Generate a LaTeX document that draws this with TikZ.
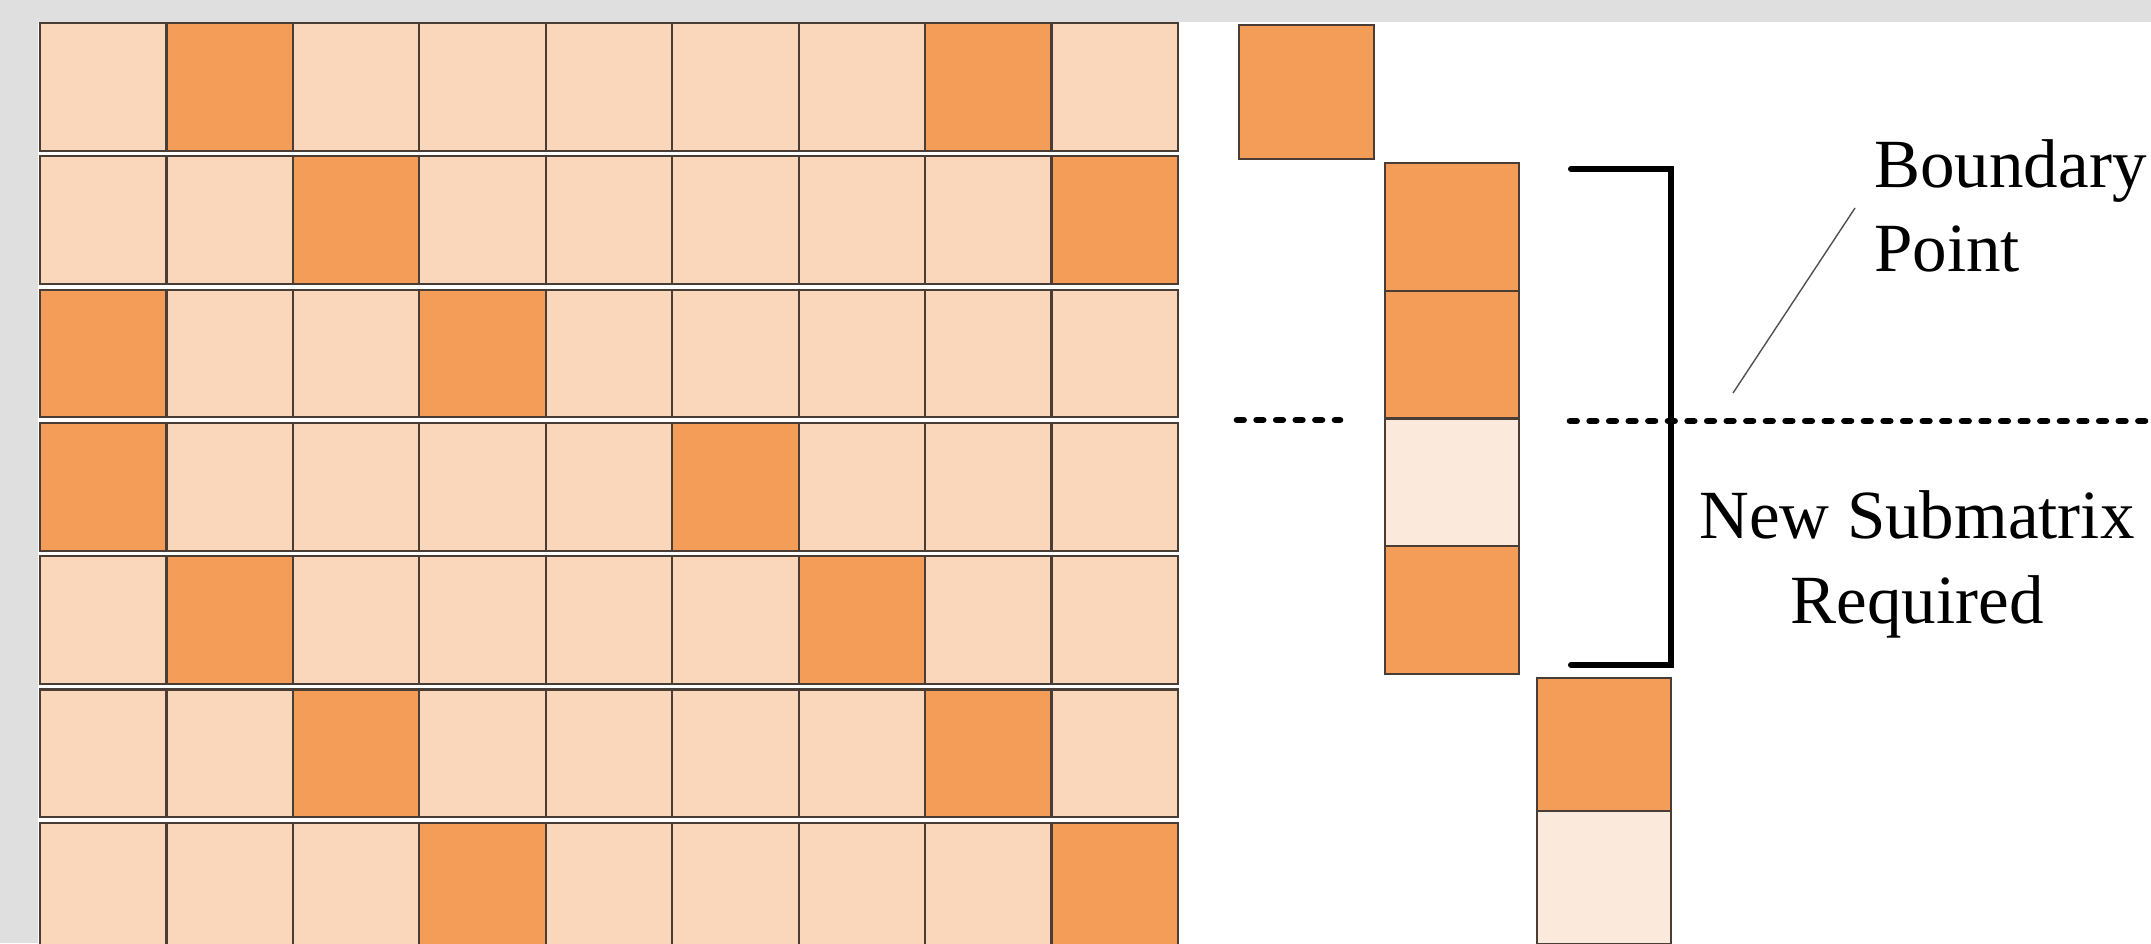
\documentclass[tikz,border=0pt]{standalone}
\usepackage{fontspec}
\setmainfont{Liberation Serif}
\definecolor{bggrey}{HTML}{DFDFDF}
\definecolor{lightcell}{HTML}{FAD7BB}
\definecolor{darkcell}{HTML}{F49D58}
\definecolor{palecell}{HTML}{FBE9DC}
\definecolor{cellline}{HTML}{4A3D35}
\definecolor{leadergrey}{HTML}{505050}
\begin{document}
\begin{tikzpicture}[x=0.5pt,y=-0.5pt,
  cell/.style={draw=cellline, line width=1.1pt, inner sep=0pt, outer sep=0pt,
    minimum width=63.22pt, minimum height=63.85pt, anchor=north west},
  colcell/.style={draw=cellline, line width=1.1pt, inner sep=0pt, outer sep=0pt,
    minimum width=67pt, anchor=north west},
  dotline/.style={line width=3.3pt, line cap=round, dash pattern=on 3.3pt off 6.5pt},
  bracketline/.style={line width=3pt, line cap=round, line join=miter},
  leader/.style={draw=leadergrey, line width=0.7pt},
  label/.style={font=\fontsize{34.5pt}{42pt}\selectfont, inner sep=0pt}]
\useasboundingbox (0,0) rectangle (2151,943);
\fill[bggrey] (0,0) rectangle (2151,943);
\fill[white] (38,22) rectangle (2151,943);

% main grid
\foreach \r/\a/\b in {1/2/8,2/3/9,3/1/4,4/1/6,5/2/7,6/3/8,7/4/9}{
  \foreach \c in {1,...,9}{
    \def\fc{lightcell}
    \ifnum\c=\a \def\fc{darkcell}\fi
    \ifnum\c=\b \def\fc{darkcell}\fi
    \node[cell, fill=\fc] (g\r-\c) at ({40+(\c-1)*126.44},{23+(\r-1)*133.3}) {};
  }
}

% single box
\node[colcell, fill=darkcell, minimum width=67.5pt, minimum height=67pt] (s1) at (1239,25) {};
% second column
\node[colcell, fill=darkcell, minimum height=63.85pt] (c1) at (1385,163) {};
\node[colcell, fill=darkcell, minimum height=63.85pt] (c2) at (1385,290.7) {};
\node[colcell, fill=palecell, minimum height=63.85pt] (c3) at (1385,418.4) {};
\node[colcell, fill=darkcell, minimum height=64pt] (c4) at (1385,546) {};
% third column
\node[colcell, fill=darkcell, minimum height=66.5pt] (d1) at (1537,678) {};
\node[colcell, fill=palecell, minimum height=66.5pt] (d2) at (1537,811) {};

% dashed boundary line
\coordinate (la) at (1237,420);
\coordinate (lb) at (1340,420);
\coordinate (ra) at (1570,421);
\coordinate (rb) at (2165,421);
\draw[dotline] (la) -- (lb);
\draw[dotline] (ra) -- (rb);

% bracket
\coordinate (bt0) at (1571,169);
\coordinate (bt1) at (1671,169);
\coordinate (bb1) at (1671,665);
\coordinate (bb0) at (1571,665);
\draw[bracketline] (bt0) -- (bt1) -- (bb1) -- (bb0);

% labels
\node[label, anchor=base west] (bp1) at (1874,187) {Boundary};
\node[label, anchor=base west] (bp2) at (1874,271) {Point};
\node[label, anchor=base] (ns1) at (1917,538) {New Submatrix};
\node[label, anchor=base] (ns2) at (1917,623) {Required};

% leader line
\coordinate (lp0) at (1733,393);
\coordinate (lp1) at (1855,208);
\draw[leader] (lp0) -- (lp1);
\end{tikzpicture}
\end{document}
